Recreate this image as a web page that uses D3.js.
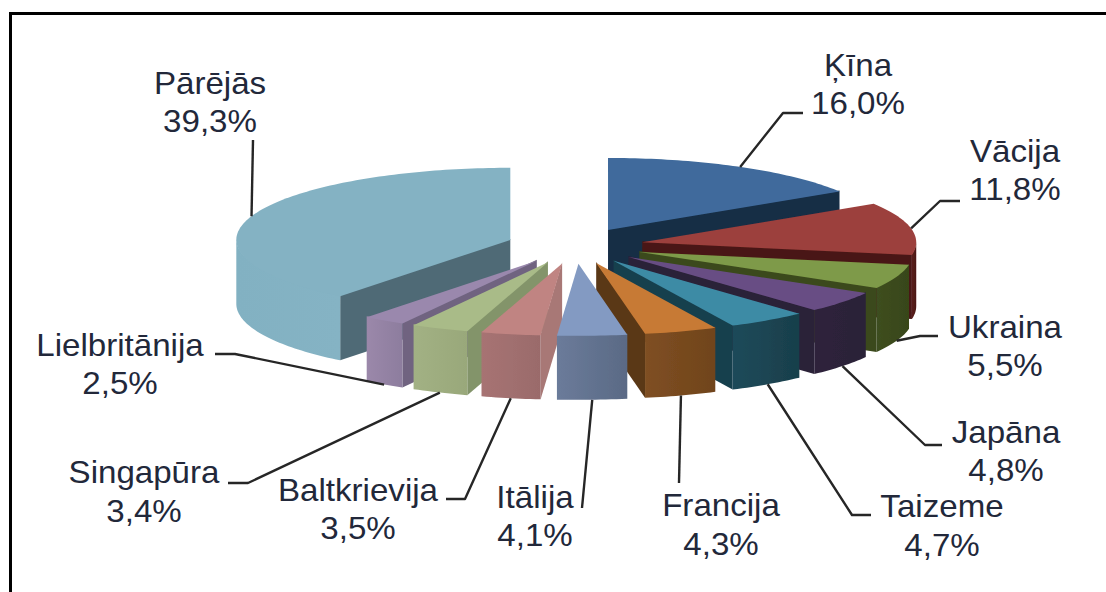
<!DOCTYPE html>
<html><head><meta charset="utf-8">
<script src="https://cdn.jsdelivr.net/npm/d3@7/dist/d3.min.js"></script>
<style>html,body{margin:0;padding:0;background:#fff}svg{display:block}text{font-family:"Liberation Sans",Arial,sans-serif}</style>
</head><body><svg id="c" width="1106" height="592"></svg>
<script>
// Data
const categories = ["Ķīna","Vācija","Ukraina","Japāna","Taizeme","Francija","Itālija","Baltkrievija","Singapūra","Lielbritānija","Pārējās"];
const shares = [16.0,11.8,5.5,4.8,4.7,4.3,4.1,3.5,3.4,2.5,39.3];
const shareLabels = ["16,0%","11,8%","5,5%","4,8%","4,7%","4,3%","4,1%","3,5%","3,4%","2,5%","39,3%"];
// Colours
const topColors  = ["#3f6b9c","#9c3f3d","#7e9a48","#684e84","#3e8ba5","#c77a35","#839ac2","#c08482","#a9bb88","#9a88ad","#84b2c3"];
const sideColors = ["#162d45","#4a1815","#3b4a1c","#2b2038","#17404e","#5a3716","#5f6f8b","#a87876","#83946a","#6f6480","#4f6a76"];
const wallLeft   = ["#1a3350","#5a1f1c","#3e4e20","#2e233b","#1f4a5a","#7f4f22","#6b7b9a","#a77373","#a2b184","#9b88aa","#82b1c2"];
const wallRight  = ["#162d45","#4a1815","#384619","#2b2038","#183f4b","#70441c","#5a6a85","#9a6b6b","#99a87a","#8d7d9e","#85b3c4"];
// Label layout: centre x, first baseline, second baseline, leader end and elbow
const labelX  = [858,1015,1005,1006,942,721,535,358,144,120,210];
const labelY1 = [76,162,338,443,517,516,508,501,483,356,94];
const labelY2 = [114,200,376,481,556,555,546,539,522,394,132];
const leaderEnd = [[803,113],[960,201],[938,336],[942,445],[871,515],[679,483],[582,508],[446,499],[228,483],[215,354],[253,140]];
const leaderElbow = [[783,113],[940,201],[920,336],[925,445],[852,515],null,null,[465,499],[248,483],[235,354],null];

const W=1106,H=592, cx=575, cy=245.8, explode=68.5, R=274, tilt=0.263, depth=64;
const svg=d3.select("#c");
const defs=svg.append("defs");
defs.append("filter").attr("id","soft").append("feGaussianBlur").attr("stdDeviation",0.45);

const pie=d3.pie().sort(null).value(d=>d).startAngle(0).endAngle(2*Math.PI);
const arcs=pie(shares).map((a,i)=>{
  const mid=(a.startAngle+a.endAngle)/2;
  return {i,a0:a.startAngle,a1:a.endAngle,mid,
    ax:cx+explode*Math.sin(mid), ay:cy-explode*tilt*Math.cos(mid)};
});
const rim=(s,t)=>[s.ax+R*Math.sin(t), s.ay-R*tilt*Math.cos(t)];
const line=d3.line();
const sweep=(a,b)=>{const n=Math.max(2,Math.ceil((b-a)/0.02));return d3.range(n+1).map(k=>a+(b-a)*k/n);};

const pieG=svg.append("g").attr("filter","url(#soft)");
arcs.slice().sort((p,q)=>d3.descending(Math.cos(p.mid),Math.cos(q.mid))).forEach(s=>{
  const g=pieG.append("g");
  const down=([x,y])=>[x,y+depth];
  const lift=([x,y])=>[x,y-1];
  const apex=[s.ax,s.ay];
  // radial faces
  const face=t=>{const e=rim(s,t);return line([lift(apex),lift(e),down(e),down(apex)])+"Z";};
  if(Math.sin(s.a1)>0) g.append("path").attr("d",face(s.a1)).attr("fill",sideColors[s.i]);
  if(Math.sin(s.a0)<0) g.append("path").attr("d",face(s.a0)).attr("fill",sideColors[s.i]);
  // outer wall
  const lo=Math.max(s.a0,Math.PI/2), hi=Math.min(s.a1,3*Math.PI/2);
  if(hi>lo){
    const pts=sweep(lo,hi).map(t=>rim(s,t));
    const xs=pts.map(p=>p[0]);
    const id="w"+s.i;
    const gr=defs.append("linearGradient").attr("id",id).attr("gradientUnits","userSpaceOnUse")
      .attr("x1",d3.min(xs)).attr("x2",d3.max(xs)).attr("y1",0).attr("y2",0);
    gr.append("stop").attr("offset",0).attr("stop-color",wallLeft[s.i]);
    gr.append("stop").attr("offset",1).attr("stop-color",wallRight[s.i]);
    g.append("path").attr("d",line(pts.map(lift).concat(pts.slice().reverse().map(down)))+"Z").attr("fill",`url(#${id})`);
  }
  // top
  const top=[apex].concat(sweep(s.a0,s.a1).map(t=>rim(s,t)));
  g.append("path").attr("d",line(top)+"Z").attr("fill",topColors[s.i]);
});

// leaders
const leaderG=svg.append("g").attr("fill","none").attr("stroke","#262626").attr("stroke-width",2.4).attr("stroke-linejoin","round");
arcs.forEach(s=>{
  const p=rim(s,s.mid);
  if(Math.cos(s.mid)<0) p[1]+=depth;
  const pts=[leaderEnd[s.i]];
  if(leaderElbow[s.i]) pts.push(leaderElbow[s.i]);
  pts.push(p);
  leaderG.append("path").attr("d",line(pts));
});

// labels
const stretch=1.035;
const labelG=svg.append("g").attr("fill","#22283a").attr("font-size",32).attr("text-anchor","middle");
categories.forEach((c,i)=>{
  [[c,labelY1[i]],[shareLabels[i],labelY2[i]]].forEach(([t,y])=>{
    labelG.append("text").attr("transform",`translate(${labelX[i]},${y}) scale(${stretch},1)`).text(t);
  });
});

// frame
svg.append("path").attr("d",line([[10.5,H],[10.5,13.5],[W,13.5]])).attr("fill","none").attr("stroke","#000").attr("stroke-width",3);
</script></body></html>
